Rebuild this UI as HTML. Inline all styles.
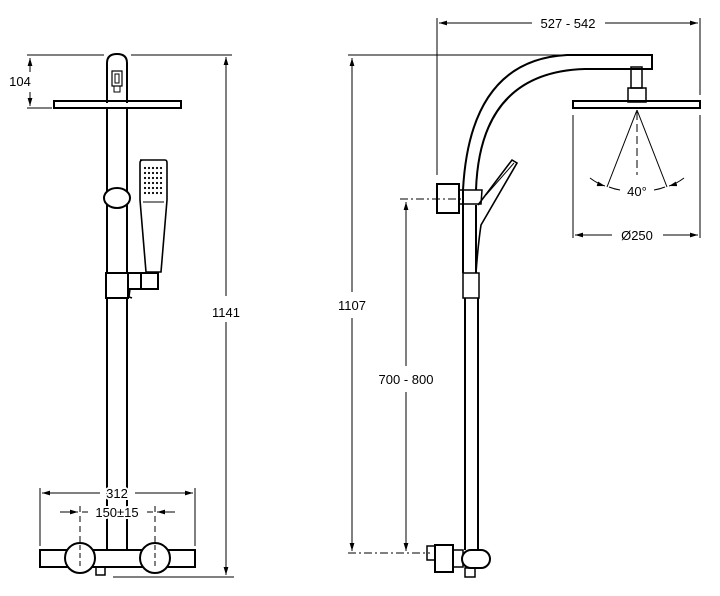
<!DOCTYPE html>
<html><head><meta charset="utf-8"><style>
html,body{margin:0;padding:0;background:#fff;width:720px;height:596px;overflow:hidden}
svg{display:block}
text{font-family:"Liberation Sans",sans-serif;font-size:13px;fill:#000;stroke:#fff;stroke-width:4px;paint-order:stroke}
</style></head><body>
<svg width="720" height="596" viewBox="0 0 720 596" xmlns="http://www.w3.org/2000/svg">
<defs>
<marker id="a" viewBox="0 0 10 6" refX="10" refY="3" markerWidth="8" markerHeight="5" orient="auto-start-reverse"><path d="M0,0 L10,3 L0,6 z" fill="#000"/></marker>
</defs>
<g fill="none" stroke="#000">
<!-- LEFT VIEW -->
<g stroke-width="1">
<line x1="27" y1="55" x2="104" y2="55"/><line x1="131" y1="55" x2="232" y2="55"/>
<line x1="27" y1="108" x2="52" y2="108"/>
<line x1="30" y1="58" x2="30" y2="72" marker-start="url(#a)"/>
<line x1="30" y1="92" x2="30" y2="106" marker-end="url(#a)"/>
<line x1="226" y1="57" x2="226" y2="296" marker-start="url(#a)"/>
<line x1="226" y1="322" x2="226" y2="575" marker-end="url(#a)"/>
<line x1="113" y1="577" x2="234" y2="577"/>
<line x1="40" y1="488" x2="40" y2="546"/><line x1="195" y1="488" x2="195" y2="546"/>
<line x1="42" y1="493" x2="100" y2="493" marker-start="url(#a)"/>
<line x1="135" y1="493" x2="193" y2="493" marker-end="url(#a)"/>
<line x1="60" y1="512" x2="78" y2="512" marker-end="url(#a)"/>
<line x1="175" y1="512" x2="157" y2="512" marker-end="url(#a)"/>
<line x1="82" y1="512" x2="88" y2="512"/><line x1="147" y1="512" x2="153" y2="512"/>
<line x1="80" y1="506" x2="80" y2="565" stroke-dasharray="6,4"/>
<line x1="155" y1="506" x2="155" y2="565" stroke-dasharray="6,4"/>
</g>
<g stroke-width="2">
<path d="M107,103 V63 Q107,54 117,54 Q127,54 127,63 V103"/>
<rect x="112" y="71" width="10" height="15" stroke-width="1.2"/>
<rect x="115" y="74" width="4" height="9" stroke-width="1"/>
<rect x="114" y="86" width="6" height="6" stroke-width="1"/>
<rect x="54" y="101" width="127" height="7"/>
<line x1="107" y1="108" x2="107" y2="273"/><line x1="127" y1="108" x2="127" y2="273"/>
<ellipse cx="117" cy="198" rx="13" ry="10" fill="#fff"/>
<path d="M140,160 H165 Q167,160 167,163 V200 L161,272 H146 L140,200 V163 Q140,160 143,160 Z" stroke-width="1.6"/>
<path d="M143,202 H164" stroke-width="1"/>
<path d="M106,273 H128 V298 H106 Z"/>
<path d="M128,273 H158 V289 H128" /><line x1="141" y1="273" x2="141" y2="289"/>
<path d="M130,289 L129,297 L132,298" stroke-width="1.5"/>
<line x1="107" y1="298" x2="107" y2="550"/><line x1="127" y1="298" x2="127" y2="550"/>
<rect x="40" y="550" width="155" height="17"/>
<circle cx="80" cy="558" r="15" fill="#fff"/><circle cx="155" cy="558" r="15" fill="#fff"/>
<line x1="80" y1="545" x2="80" y2="566" stroke-width="1" stroke-dasharray="5,3"/>
<line x1="155" y1="545" x2="155" y2="566" stroke-width="1" stroke-dasharray="5,3"/>
<rect x="96" y="567" width="9" height="8" stroke-width="1.5"/>
</g>
<!-- RIGHT VIEW -->
<g stroke-width="1">
<line x1="437" y1="18" x2="437" y2="175"/><line x1="700" y1="18" x2="700" y2="95"/>
<line x1="439" y1="23" x2="532" y2="23" marker-start="url(#a)"/>
<line x1="605" y1="23" x2="698" y2="23" marker-end="url(#a)"/>
<line x1="348" y1="55" x2="563" y2="55"/>
<line x1="352" y1="58" x2="352" y2="292" marker-start="url(#a)"/>
<line x1="352" y1="318" x2="352" y2="551" marker-end="url(#a)"/>
<line x1="406" y1="202" x2="406" y2="366" marker-start="url(#a)"/>
<line x1="406" y1="392" x2="406" y2="551" marker-end="url(#a)"/>
<line x1="400" y1="199" x2="462" y2="199" stroke-dasharray="8,3,2,3"/>
<line x1="348" y1="553" x2="430" y2="553" stroke-dasharray="8,3,2,3"/>
<line x1="573" y1="115" x2="573" y2="238"/><line x1="700" y1="115" x2="700" y2="238"/>
<line x1="575" y1="235" x2="612" y2="235" marker-start="url(#a)"/>
<line x1="663" y1="235" x2="698" y2="235" marker-end="url(#a)"/>
<line x1="637" y1="110" x2="607" y2="187"/><line x1="637" y1="110" x2="667" y2="187"/>
<line x1="637" y1="112" x2="637" y2="175" stroke-dasharray="8,4"/>
<path d="M590,178 Q598,184 605,186" marker-end="url(#a)"/>
<path d="M684,178 Q676,184 669,186" marker-end="url(#a)"/>
<path d="M609,187 Q614,189 620,190"/><path d="M654,190 Q660,189 665,187"/>
</g>
<g stroke-width="2">
<path d="M463,190 Q470,60 567,55 H652 V69 H585 Q480,72 476,190"/>
<line x1="463" y1="190" x2="463" y2="273"/><line x1="476" y1="205" x2="476" y2="273"/>
<rect x="437" y="184" width="22" height="29"/>
<path d="M459,190 H482 L481,204 H459" stroke-width="1.5"/>
<path d="M478,205 L512,160 L517,163 L481,225 Q478,245 476,273" stroke-width="1.6"/>
<line x1="486" y1="195" x2="514" y2="163" stroke-width="1"/>
<rect x="463" y="273" width="16" height="25" stroke-width="1.5"/>
<line x1="465" y1="298" x2="465" y2="550"/><line x1="478" y1="298" x2="478" y2="550"/>
<rect x="631" y="67" width="11" height="21" stroke-width="1.5"/>
<rect x="628" y="88" width="18" height="14" stroke-width="1.5"/>
<rect x="573" y="101" width="127" height="7"/>
<rect x="427" y="546" width="8" height="14" stroke-width="1.5"/>
<rect x="435" y="545" width="18" height="27"/>
<rect x="453" y="550" width="10" height="17" stroke-width="1.5"/>
<rect x="462" y="550" width="28" height="18" rx="9" fill="#fff"/>
<rect x="465" y="568" width="10" height="9" stroke-width="1.5"/>
</g>
</g>
<g fill="#000">
<circle cx="145" cy="168" r="1.1"/><circle cx="149" cy="168" r="1.1"/><circle cx="153" cy="168" r="1.1"/><circle cx="157" cy="168" r="1.1"/><circle cx="161" cy="168" r="1.1"/>
<circle cx="145" cy="173" r="1.1"/><circle cx="149" cy="173" r="1.1"/><circle cx="153" cy="173" r="1.1"/><circle cx="157" cy="173" r="1.1"/><circle cx="161" cy="173" r="1.1"/>
<circle cx="145" cy="178" r="1.1"/><circle cx="149" cy="178" r="1.1"/><circle cx="153" cy="178" r="1.1"/><circle cx="157" cy="178" r="1.1"/><circle cx="161" cy="178" r="1.1"/>
<circle cx="145" cy="183" r="1.1"/><circle cx="149" cy="183" r="1.1"/><circle cx="153" cy="183" r="1.1"/><circle cx="157" cy="183" r="1.1"/><circle cx="161" cy="183" r="1.1"/>
<circle cx="145" cy="188" r="1.1"/><circle cx="149" cy="188" r="1.1"/><circle cx="153" cy="188" r="1.1"/><circle cx="157" cy="188" r="1.1"/><circle cx="161" cy="188" r="1.1"/>
<circle cx="145" cy="193" r="1.1"/><circle cx="149" cy="193" r="1.1"/><circle cx="153" cy="193" r="1.1"/><circle cx="157" cy="193" r="1.1"/><circle cx="161" cy="193" r="1.1"/>
</g>
<text x="20" y="86" text-anchor="middle">104</text>
<text x="226" y="317" text-anchor="middle">1141</text>
<text x="117" y="498" text-anchor="middle">312</text>
<text x="117" y="517" text-anchor="middle">150±15</text>
<text x="568" y="28" text-anchor="middle">527 - 542</text>
<text x="352" y="310" text-anchor="middle">1107</text>
<text x="406" y="384" text-anchor="middle">700 - 800</text>
<text x="637" y="196" text-anchor="middle">40°</text>
<text x="637" y="240" text-anchor="middle">Ø250</text>
</svg>
</body></html>
